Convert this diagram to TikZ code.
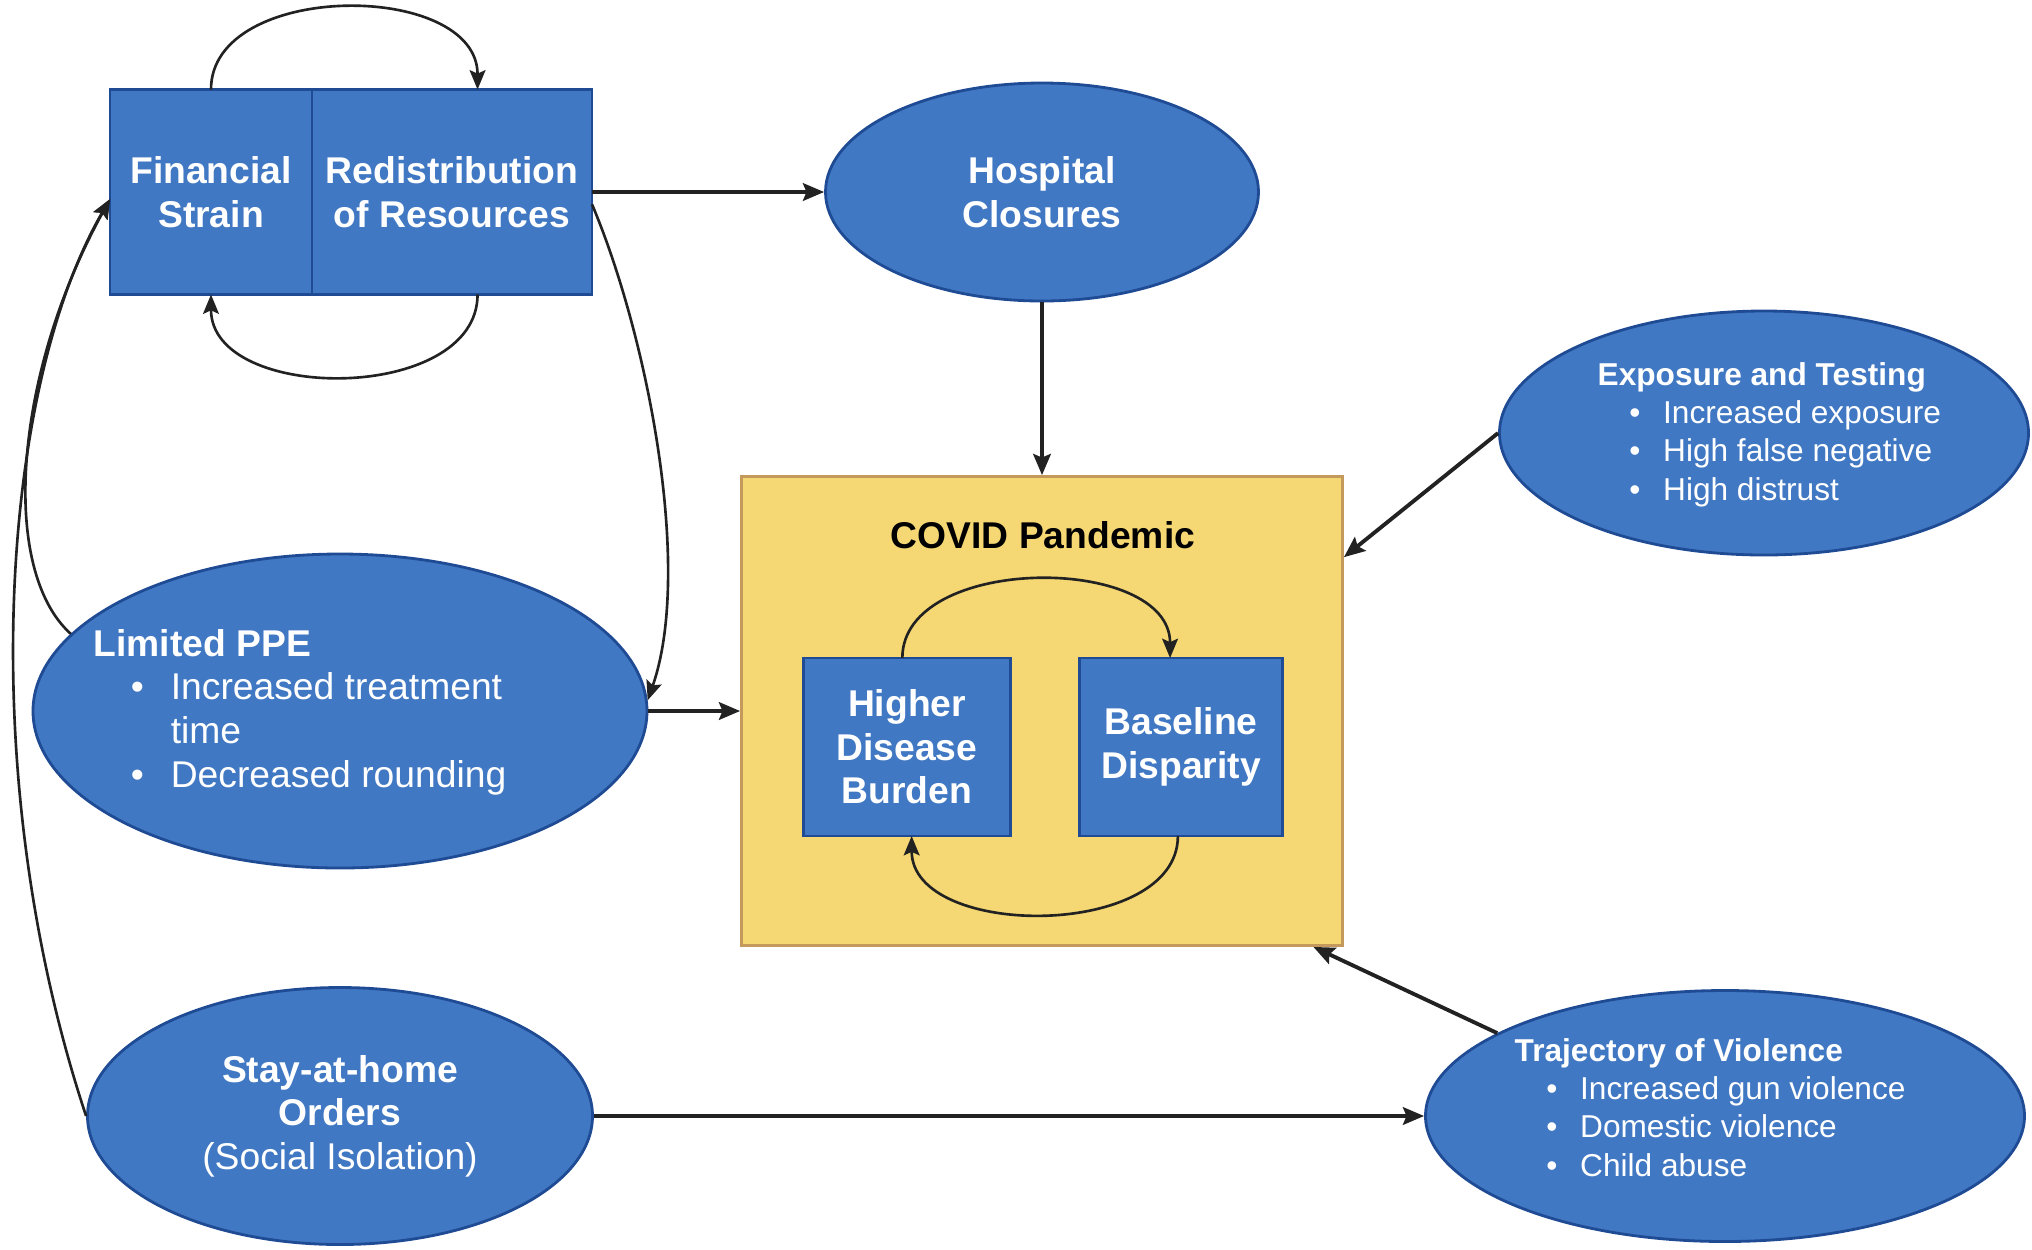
\documentclass[tikz,border=0pt]{standalone}
\usepackage{fontspec}
\setmainfont{Liberation Sans}
\usetikzlibrary{positioning,shapes.geometric,arrows.meta}
\definecolor{blueface}{HTML}{4178C3}
\definecolor{blueline}{HTML}{1F4B94}
\definecolor{covidface}{HTML}{F5D873}
\definecolor{covidline}{HTML}{C49A5C}
\definecolor{arrowgray}{HTML}{222222}
\newcommand\bigtxt{\fontsize{10.6}{12.4}\selectfont}
\newcommand\smalltxt{\fontsize{9}{10.9}\selectfont}

\begin{document}
\begin{tikzpicture}[
  font=\bigtxt,
  box/.style={rectangle, draw=blueline, fill=blueface, line width=0.8pt, outer sep=0pt,
    text=white, font=\bigtxt\bfseries, align=center, minimum height=1.78cm},
  oval/.style={ellipse, draw=blueline, fill=blueface, line width=0.8pt, text=white, align=center},
  note/.style={anchor=west, text=white, inner sep=0pt},
  conn/.style={-{Stealth[length=6pt,width=5pt,inset=1pt]}, line width=1.1pt, color=arrowgray},
  loop/.style={-{Stealth[length=5.5pt,width=4.5pt,inset=1pt]}, line width=0.75pt, color=arrowgray}]
  \useasboundingbox (0,0) rectangle (20.32,-12.49);

  \node[box, minimum width=2.02cm, minimum height=2.05cm] (fin) at (2.11,-1.92) {Financial\\Strain};
  \node[box, minimum width=2.80cm, minimum height=2.05cm, right=0pt of fin] (red) {Redistribution\\of Resources};
  \node[oval, minimum width=4.33cm, minimum height=2.18cm, font=\bigtxt\bfseries] (hosp) at (10.42,-1.92) {Hospital\\Closures};

  \node[rectangle, draw=covidline, fill=covidface, line width=0.8pt, minimum width=6.01cm, minimum height=4.69cm] (covid) at (10.42,-7.11) {};
  \node[font=\bigtxt\bfseries] (covtitle) at (10.43,-5.35) {COVID Pandemic};
  \node[box, minimum width=2.07cm] (hd) at (9.07,-7.47) {Higher\\Disease\\Burden};
  \node[box, minimum width=2.03cm] (bd) at (11.81,-7.47) {Baseline\\Disparity};

  \node[oval, minimum width=5.29cm, minimum height=2.44cm] (exp) at (17.64,-4.33) {};
  \node[note, font=\smalltxt] (exptext) at (15.97,-4.35) {\begin{tabular}{@{\hspace{1em}}l@{\hspace{0.72em}}l@{}}
    \multicolumn{2}{@{}l@{}}{\bfseries Exposure and Testing}\\
    \textbullet & Increased exposure\\
    \textbullet & High false negative\\
    \textbullet & High distrust
  \end{tabular}};

  \node[oval, minimum width=6.14cm, minimum height=3.14cm] (ppe) at (3.40,-7.11) {};
  \node[note] (ppetext) at (0.93,-7.13) {\begin{tabular}{@{\hspace{1em}}l@{\hspace{0.72em}}l@{}}
    \multicolumn{2}{@{}l@{}}{\bfseries Limited PPE}\\
    \textbullet & Increased treatment\\
     & time\\
    \textbullet & Decreased rounding
  \end{tabular}};

  \node[oval, minimum width=5.05cm, minimum height=2.57cm] (stay) at (3.40,-11.16) {\textbf{Stay-at-home}\\\textbf{Orders}\\(Social Isolation)};

  \node[oval, minimum width=5.99cm, minimum height=2.51cm] (traj) at (17.25,-11.16) {};
  \node[note, font=\smalltxt] (trajtext) at (15.14,-11.11) {\begin{tabular}{@{\hspace{1em}}l@{\hspace{0.72em}}l@{}}
    \multicolumn{2}{@{}l@{}}{\bfseries Trajectory of Violence}\\
    \textbullet & Increased gun violence\\
    \textbullet & Domestic violence\\
    \textbullet & Child abuse
  \end{tabular}};

  \path[conn]
    (red.east) edge (hosp.west)
    (hosp.south) edge (covid.north)
    (exp.west) edge (covid.27)
    (ppe.east) edge (covid.west)
    (stay.east) edge (traj.west)
    (traj.160) edge (covid.-41);

  \draw[loop] (fin.north) to[out=90, in=90, looseness=1.05] (red.76);
  \draw[loop] (red.-76) to[out=-90, in=-90, looseness=1.05] (fin.south);
  \draw[loop] (hd.93) to[out=90, in=90] (bd.97);
  \draw[loop] (bd.-92) to[out=-90, in=-90] (hd.-87);

  \draw[loop] (red.-5) .. controls (6.48,-3.37) and (6.93,-5.70) .. (ppe.2);
  \draw[loop] (ppe.164) .. controls (0,-5.70) and (0.13,-3.76) .. (fin.-176);
  \draw[loop] (stay.west) .. controls (-0.26,-7.78) and (0,-3.89) .. (fin.-176);
\end{tikzpicture}
\end{document}
